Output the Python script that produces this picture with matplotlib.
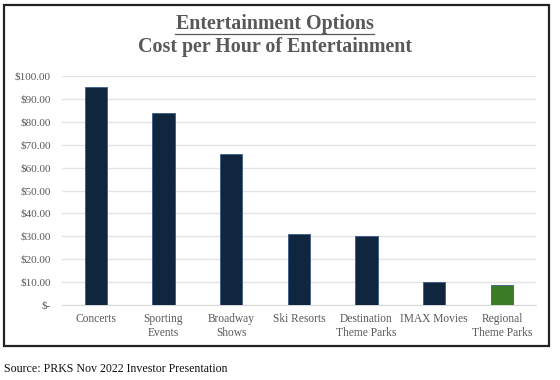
import matplotlib.pyplot as plt
from matplotlib.patches import Rectangle

categories = ["Concerts", "Sporting\nEvents", "Broadway\nShows", "Ski Resorts",
              "Destination\nTheme Parks", "IMAX Movies", "Regional\nTheme Parks"]
cost_per_hour = [95, 84, 66, 31, 30, 10, 8.75]
bar_colors = ["#10263f"] * 6 + ["#3b7a27"]
y_ticks = [0, 10, 20, 30, 40, 50, 60, 70, 80, 90, 100]
y_labels = ["$-"] + ["${:.2f}".format(v) for v in y_ticks[1:]]

plt.rcParams['font.family'] = ['Liberation Serif', 'DejaVu Serif']

fig = plt.figure(figsize=(5.6, 3.8), dpi=100)
ax = fig.add_axes([0.1107, 0.197, 0.846, 0.603])

x = range(len(categories))
ax.bar(x, cost_per_hour, width=0.33, color=bar_colors, edgecolor="#3a5a8a",
       linewidth=0.6, zorder=3)

ax.set_xlim(-0.5, 6.5)
ax.set_ylim(0, 100)
ax.set_yticks(y_ticks)
ax.set_yticklabels(y_labels, fontsize=8, color="#595959")
ax.set_xticks(list(x))
ax.set_xticklabels(categories, fontsize=8.3, color="#595959", linespacing=1.2)
ax.tick_params(axis="y", length=0, pad=8)
ax.tick_params(axis="x", length=0, pad=6)
ax.grid(axis="y", color="#e3e3e3", linewidth=1, zorder=0)
for s in ["top", "right", "left"]:
    ax.spines[s].set_visible(False)
ax.spines["bottom"].set_color("#d9d9d9")

# outer frame of the chart
fig.patches.append(Rectangle((4 / 560, 1 - 346 / 380), 545 / 560, 341 / 380,
                             transform=fig.transFigure, fill=False,
                             edgecolor="#222222", linewidth=1.6))

fig.text(274.5 / 560, 1 - 24 / 380, "Entertainment Options", ha="center", va="center",
         fontsize=14.4, fontweight="bold", color="#595959")
fig.add_artist(plt.Line2D([175 / 560, 374 / 560], [1 - 33.5 / 380, 1 - 33.5 / 380],
                          color="#595959", linewidth=0.9))
fig.text(274.5 / 560, 1 - 47 / 380, "Cost per Hour of Entertainment", ha="center",
         va="center", fontsize=14.4, fontweight="bold", color="#595959")

fig.text(4 / 560, 1 - 369 / 380, "Source: PRKS Nov 2022 Investor Presentation",
         ha="left", va="center", fontsize=8.6, color="#111111")

fig.savefig("out.png", dpi=100)
